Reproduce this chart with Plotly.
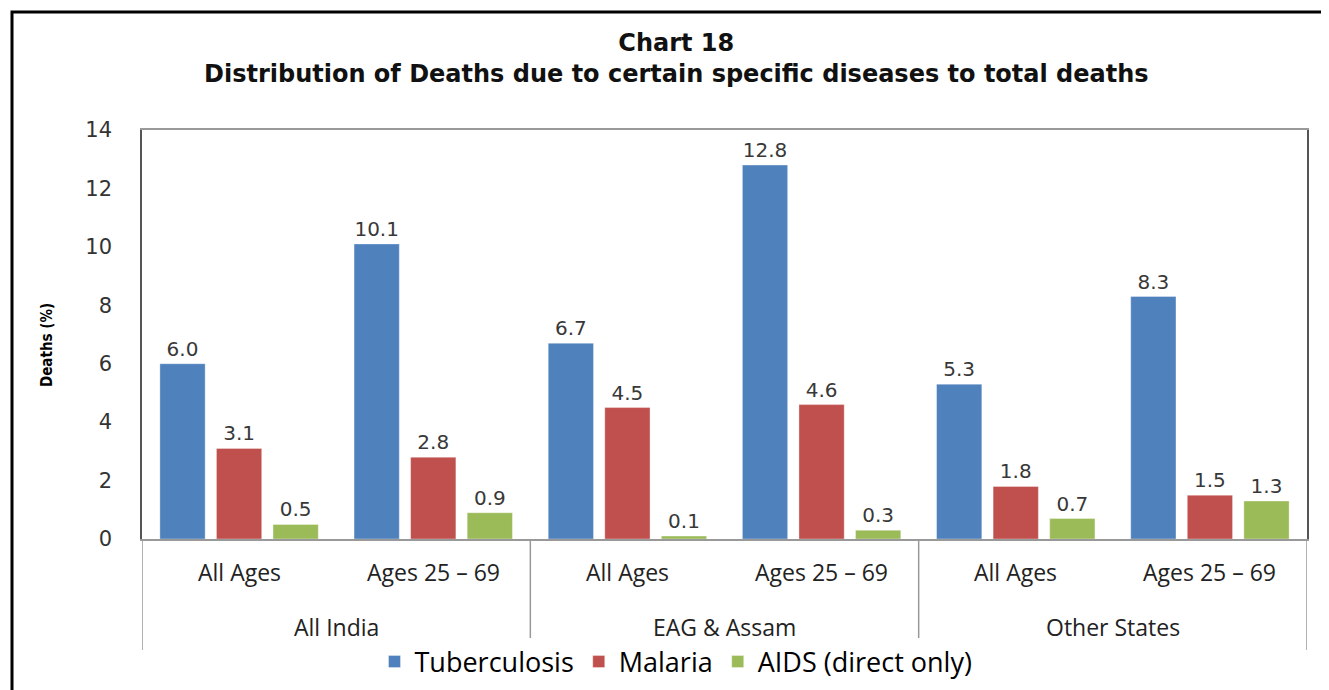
import plotly.graph_objects as go

groups = ["All India", "All India", "EAG & Assam", "EAG & Assam", "Other States", "Other States"]
ages = ["All Ages", "Ages 25 – 69"] * 3
tb = [6.0, 10.1, 6.7, 12.8, 5.3, 8.3]
malaria = [3.1, 2.8, 4.5, 4.6, 1.8, 1.5]
aids = [0.5, 0.9, 0.1, 0.3, 0.7, 1.3]
series = [("Tuberculosis", tb, "#4F81BD"), ("Malaria", malaria, "#C0504D"), ("AIDS (direct only)", aids, "#9BBB59")]

OFF = 8  # page body margin
W, H = 1329 - OFF, 690 - OFF
PL, PR, PT, PB = 142, 1307, 130, 539  # plot area in screen pixels
L, T = PL - OFF, PT - OFF
R = W + OFF - PR
B = H + OFF - PB
pw, ph = PR - PL, PB - PT

def px(x):
    return (x - PL) / pw

def py(y):
    return (PB - y) / ph

xpos = list(range(len(ages)))

fig = go.Figure()
for name, vals, col in series:
    fig.add_trace(go.Bar(
        x=xpos, y=vals, name=name,
        marker=dict(color=col, line=dict(color="rgba(255,255,255,0.35)", width=1)),
        text=[f"{v:.1f}" for v in vals], textposition="outside",
        textfont=dict(family="DejaVu Sans", size=20, color="#383838"),
        cliponaxis=False,
    ))

annotations = [dict(text="<b>Chart 18<br>Distribution of Deaths due to certain specific diseases to total deaths</b>",
                    xref="paper", yref="paper", x=px(676), y=py(58), xanchor="center", yanchor="middle",
                    showarrow=False, font=dict(family="DejaVu Sans", size=24, color="#111")),
               dict(text="<b>Deaths (%)</b>", textangle=-90, xref="paper", yref="paper",
                    x=px(47), y=py(345), xanchor="center", yanchor="middle", showarrow=False,
                    font=dict(family="Liberation Sans Narrow, DejaVu Sans Condensed, Roboto", size=15, color="#000"))]
for i, lab in enumerate(ages):
    annotations.append(dict(text=lab, xref="x", yref="paper", x=i, y=py(572), xanchor="center",
                            yanchor="middle", showarrow=False,
                            font=dict(family="Open Sans", size=23, color="#222")))
uniq = []
for g in groups:
    if g not in uniq:
        uniq.append(g)
shapes = []
for g in uniq:
    idx = [i for i, gg in enumerate(groups) if gg == g]
    annotations.append(dict(text=g, xref="x", yref="paper", x=sum(idx) / len(idx), y=py(627),
                            xanchor="center", yanchor="middle", showarrow=False,
                            font=dict(family="Open Sans", size=23, color="#222")))
    shapes.append(dict(type="line", xref="x", yref="paper", x0=idx[0] - 0.5, x1=idx[0] - 0.5,
                       y0=py(539), y1=py(650), line=dict(color="#999", width=1.5)))
shapes.append(dict(type="line", xref="x", yref="paper", x0=len(ages) - 0.5, x1=len(ages) - 0.5,
                   y0=py(539), y1=py(650), line=dict(color="#999", width=1.5)))
shapes.append(dict(type="rect", xref="paper", yref="paper", x0=px(12), x1=px(1360), y0=py(12), y1=py(720),
                   line=dict(color="black", width=3), fillcolor="rgba(0,0,0,0)", layer="below"))

fig.update_layout(
    width=W, height=H,
    margin=dict(l=L, r=R, t=T, b=B, autoexpand=False),
    paper_bgcolor="white", plot_bgcolor="white",
    barmode="group", bargap=0.126, bargroupgap=0.2,
    showlegend=True,
    legend=dict(orientation="h", x=px(676), xanchor="center",
                yref="container", y=(H + OFF - 662) / H, yanchor="middle",
                font=dict(family="Open Sans", size=27, color="#000"), itemwidth=30,
                traceorder="normal"),
    yaxis=dict(range=[0, 14], dtick=2, showgrid=False, zeroline=False,
               showline=True, linecolor="#555", mirror=True, linewidth=1.5,
               ticks="outside", ticklen=24, tickcolor="rgba(0,0,0,0)",
               tickfont=dict(family="DejaVu Sans", size=21, color="#333")),
    xaxis=dict(range=[-0.5, len(ages) - 0.5], showgrid=False, zeroline=False, showline=True,
               linecolor="#999", mirror=True, linewidth=1.5, showticklabels=False, ticks=""),
    annotations=annotations,
    shapes=shapes,
)
fig.write_html("out.html")
